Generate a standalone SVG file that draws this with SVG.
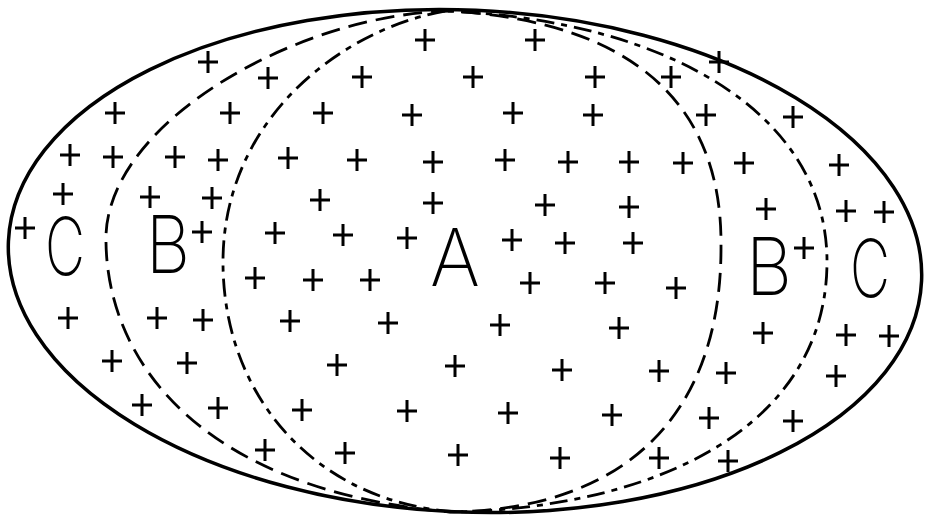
<svg xmlns="http://www.w3.org/2000/svg" width="926" height="518" viewBox="0 0 926 518">
<defs>
<style>
.outline{fill:none;stroke:#000;stroke-width:3.5}
.dash{fill:none;stroke:#000;stroke-width:2.8;stroke-dasharray:19 9}
.dashdot{fill:none;stroke:#000;stroke-width:2.8;stroke-dasharray:18 7 6 7}
.lbl{font-family:Inter,Lato,"Open Sans","Liberation Sans",sans-serif;font-weight:200;font-size:80px;fill:#000;text-anchor:middle}
.p{stroke:#000;stroke-width:3;fill:none}
</style>
<path id="plus" class="p" d="M-10,0H10M0,-11V11"/>
</defs>
<g id="regions">
<ellipse id="outer" class="outline" cx="465" cy="261" rx="457" ry="251" transform="rotate(2.5 465 261)"/>
<path id="boundaryDashed" class="dash" d="M450,11 C300,14 110,120 106,235 C104,360 200,490 450,512 C620,510 722,420 721,245 C722,110 640,22 450,11 Z"/>
<path id="boundaryDashDot" class="dashdot" d="M445,11 C340,30 223,120 223,262 C223,400 320,505 460,512 C670,505 828,420 827,260 C826,115 670,20 445,11 Z"/>
</g>
<g id="labels">
<text class="lbl" x="65" y="275" textLength="40" lengthAdjust="spacingAndGlyphs">C</text>
<text class="lbl" x="168" y="273" textLength="44" lengthAdjust="spacingAndGlyphs">B</text>
<text class="lbl" x="455" y="286" textLength="50" lengthAdjust="spacingAndGlyphs">A</text>
<text class="lbl" x="769" y="295" textLength="46" lengthAdjust="spacingAndGlyphs">B</text>
<text class="lbl" x="870" y="297" textLength="40" lengthAdjust="spacingAndGlyphs">C</text>
</g>
<g id="pluses">
<use href="#plus" x="425" y="40"/><use href="#plus" x="535" y="40"/>
<use href="#plus" x="208" y="62"/><use href="#plus" x="719" y="62"/>
<use href="#plus" x="268" y="78"/><use href="#plus" x="362" y="77"/><use href="#plus" x="473" y="77"/><use href="#plus" x="595" y="77"/><use href="#plus" x="671" y="77"/>
<use href="#plus" x="115" y="113"/><use href="#plus" x="230" y="113"/><use href="#plus" x="323" y="113"/><use href="#plus" x="412" y="115"/><use href="#plus" x="513" y="113"/><use href="#plus" x="593" y="115"/><use href="#plus" x="706" y="115"/><use href="#plus" x="793" y="117"/>
<use href="#plus" x="70" y="155"/><use href="#plus" x="113" y="157"/><use href="#plus" x="175" y="157"/><use href="#plus" x="218" y="160"/><use href="#plus" x="288" y="158"/><use href="#plus" x="357" y="160"/><use href="#plus" x="433" y="162"/><use href="#plus" x="505" y="160"/><use href="#plus" x="568" y="162"/><use href="#plus" x="629" y="162"/><use href="#plus" x="683" y="163"/><use href="#plus" x="744" y="163"/><use href="#plus" x="839" y="165"/>
<use href="#plus" x="63" y="194"/><use href="#plus" x="150" y="197"/><use href="#plus" x="212" y="198"/><use href="#plus" x="320" y="200"/><use href="#plus" x="433" y="203"/><use href="#plus" x="545" y="205"/><use href="#plus" x="629" y="207"/><use href="#plus" x="766" y="209"/><use href="#plus" x="846" y="211"/><use href="#plus" x="884" y="212"/>
<use href="#plus" x="25" y="228"/><use href="#plus" x="202" y="232"/><use href="#plus" x="275" y="233"/><use href="#plus" x="343" y="235"/><use href="#plus" x="407" y="238"/><use href="#plus" x="512" y="240"/><use href="#plus" x="565" y="243"/><use href="#plus" x="633" y="243"/><use href="#plus" x="804" y="248"/>
<use href="#plus" x="255" y="278"/><use href="#plus" x="313" y="280"/><use href="#plus" x="370" y="280"/><use href="#plus" x="530" y="283"/><use href="#plus" x="605" y="283"/><use href="#plus" x="676" y="288"/>
<use href="#plus" x="68" y="318"/><use href="#plus" x="157" y="318"/><use href="#plus" x="203" y="320"/><use href="#plus" x="290" y="321"/><use href="#plus" x="388" y="323"/><use href="#plus" x="500" y="325"/><use href="#plus" x="619" y="328"/><use href="#plus" x="763" y="333"/><use href="#plus" x="846" y="335"/><use href="#plus" x="889" y="336"/>
<use href="#plus" x="112" y="361"/><use href="#plus" x="187" y="363"/><use href="#plus" x="337" y="365"/><use href="#plus" x="455" y="366"/><use href="#plus" x="562" y="370"/><use href="#plus" x="659" y="371"/><use href="#plus" x="726" y="373"/><use href="#plus" x="836" y="376"/>
<use href="#plus" x="142" y="405"/><use href="#plus" x="218" y="408"/><use href="#plus" x="302" y="410"/><use href="#plus" x="407" y="411"/><use href="#plus" x="508" y="413"/><use href="#plus" x="612" y="415"/><use href="#plus" x="709" y="418"/><use href="#plus" x="793" y="421"/>
<use href="#plus" x="265" y="450"/><use href="#plus" x="345" y="453"/><use href="#plus" x="458" y="455"/><use href="#plus" x="560" y="458"/><use href="#plus" x="659" y="458"/><use href="#plus" x="728" y="461"/>
</g>
</svg>
